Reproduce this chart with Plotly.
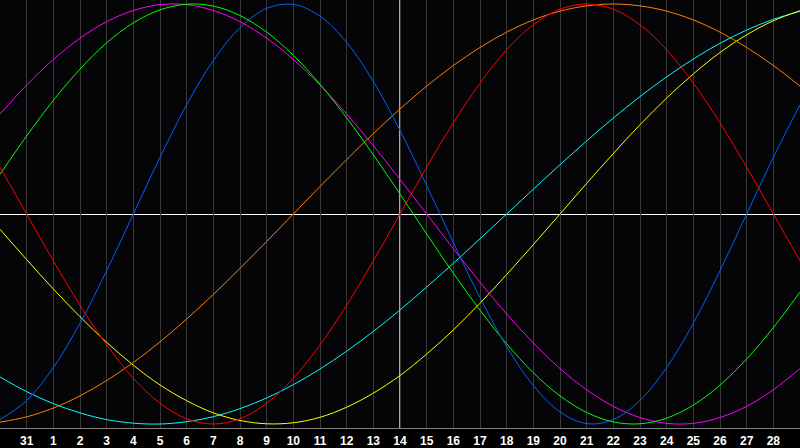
import plotly.graph_objects as go

# Day labels along the bottom (slot 0 = day 30 of previous month, unlabeled)
day_labels = ["30", "31"] + [str(d) for d in range(1, 30)]
tick_slots = list(range(1, 30))
tick_labels = day_labels[1:30]

# Cycle values read per day slot (0..30), amplitude -1..1
red = [0.223, 0.0, -0.223, -0.434, -0.623, -0.782, -0.901, -0.975, -1.0, -0.975, -0.901,
       -0.782, -0.623, -0.434, -0.223, 0.0, 0.223, 0.434, 0.623, 0.782, 0.901, 0.975, 1.0,
       0.975, 0.901, 0.782, 0.623, 0.434, 0.223, 0.0, -0.223]
blue = [-0.979, -0.888, -0.731, -0.520, -0.270, 0.0, 0.270, 0.520, 0.731, 0.888, 0.979,
        0.998, 0.942, 0.817, 0.631, 0.398, 0.136, -0.136, -0.398, -0.631, -0.817, -0.942,
        -0.998, -0.979, -0.888, -0.731, -0.520, -0.270, 0.0, 0.270, 0.520]
green = [0.189, 0.372, 0.541, 0.690, 0.815, 0.910, 0.972, 0.999, 0.990, 0.945, 0.866, 0.756,
         0.618, 0.458, 0.282, 0.095, -0.095, -0.282, -0.458, -0.618, -0.756, -0.866, -0.945,
         -0.990, -0.999, -0.972, -0.910, -0.815, -0.690, -0.541, -0.372]
magenta = [0.476, 0.614, 0.736, 0.837, 0.916, 0.969, 0.997, 0.997, 0.969, 0.916, 0.837, 0.736,
           0.614, 0.476, 0.325, 0.165, 0.0, -0.165, -0.325, -0.476, -0.614, -0.736, -0.837,
           -0.916, -0.969, -0.997, -0.997, -0.969, -0.916, -0.837, -0.736]
cyan = [-0.776, -0.846, -0.903, -0.947, -0.979, -0.996, -1.0, -0.989, -0.965, -0.927, -0.876,
        -0.813, -0.738, -0.653, -0.559, -0.457, -0.348, -0.235, -0.118, 0.0, 0.118, 0.235,
        0.348, 0.457, 0.559, 0.653, 0.738, 0.813, 0.876, 0.927, 0.965]
yellow = [-0.073, -0.217, -0.357, -0.489, -0.611, -0.720, -0.814, -0.889, -0.947, -0.983, -0.999,
          -0.994, -0.968, -0.920, -0.853, -0.769, -0.667, -0.552, -0.425, -0.288, -0.146, 0.0,
          0.146, 0.288, 0.425, 0.552, 0.667, 0.769, 0.853, 0.920, 0.968]
orange = [-0.991, -0.966, -0.924, -0.866, -0.793, -0.707, -0.609, -0.500, -0.383, -0.259, -0.131,
          0.0, 0.131, 0.259, 0.383, 0.500, 0.609, 0.707, 0.793, 0.866, 0.924, 0.966, 0.991,
          1.0, 0.991, 0.966, 0.924, 0.866, 0.793, 0.707, 0.609]

slots = list(range(len(red)))
center_slot = 15

series = [
    ("cyan", cyan, "#00ffff"),
    ("yellow", yellow, "#ffff00"),
    ("orange", orange, "#ff8000"),
    ("magenta", magenta, "#ff00ff"),
    ("green", green, "#00ff00"),
    ("blue", blue, "#0060ff"),
    ("red", red, "#ff0000"),
]

fig = go.Figure()
for name, vals, col in series:
    fig.add_trace(go.Scatter(
        x=slots, y=vals, mode="lines", name=name,
        line=dict(color=col, width=1, shape="spline", smoothing=1.0),
        hoverinfo="skip", showlegend=False,
    ))

# white centre cross, drawn between the grid and the curves
half_px_y = 0.5 * 2.038 / 428
fig.add_shape(type="line", xref="x", yref="paper",
              x0=center_slot, x1=center_slot,
              y0=0, y1=1, line=dict(color="#ffffff", width=1.3), layer="between")
fig.add_shape(type="line", xref="paper", yref="y", x0=0, x1=1,
              y0=-half_px_y, y1=-half_px_y,
              line=dict(color="#ffffff", width=1), layer="between")

fig.update_layout(
    width=800, height=448,
    margin=dict(l=0, r=0, t=0, b=20),
    paper_bgcolor="#000000",
    plot_bgcolor="#050508",
    xaxis=dict(
        range=[0, 30], tickmode="array", tickvals=tick_slots, ticktext=tick_labels,
        showgrid=True, gridcolor="#383838", gridwidth=1, zeroline=False,
        showline=True, linecolor="#808080", linewidth=1, mirror=True,
        ticks="", ticklabelstandoff=2,
        tickfont=dict(family="Liberation Sans", size=12, color="#ffffff", weight="bold"),
    ),
    yaxis=dict(
        range=[-1.019, 1.019], showgrid=False, zeroline=False, showticklabels=False,
        showline=True, linecolor="#808080", linewidth=1, mirror=True,
    ),
)

fig.write_html(
    "out.html",
    config={"displayModeBar": False, "staticPlot": True},
    post_script="document.body.style.margin='0';document.body.style.overflow='hidden';document.body.style.background='#000';",
)
